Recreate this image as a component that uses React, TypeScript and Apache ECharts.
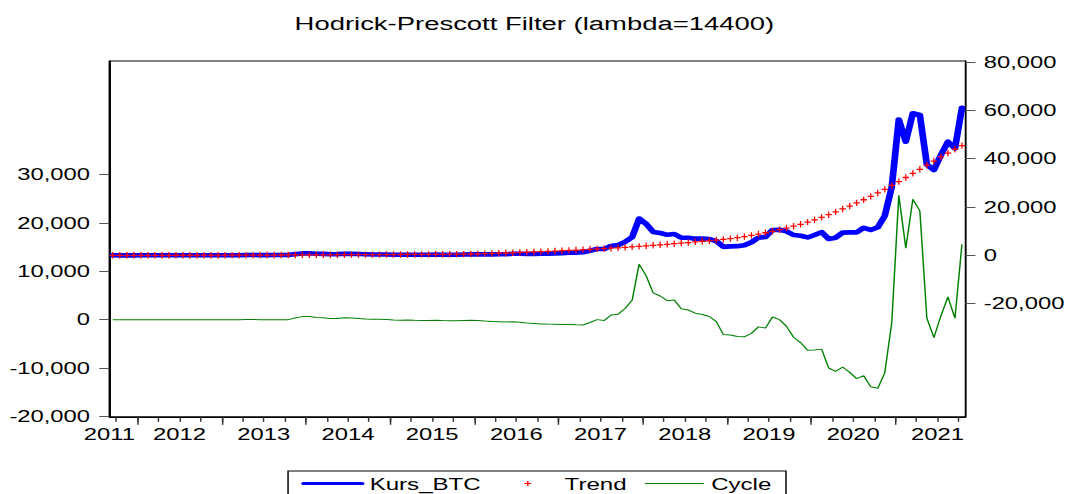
import React, { useEffect, useRef } from "react";
import * as echarts from "echarts";

// Monthly data, 2011M09 .. 2021M10
const START_YEAR = 2011;
const START_MONTH = 9;

const kursBTC: number[] = [
  5, 3, 3, 4,
  6, 5, 5, 5, 5, 6, 8, 11, 11, 12, 11, 13,
  15, 25, 55, 130, 120, 105, 85, 110, 130, 150, 500, 800,
  850, 650, 600, 450, 500, 630, 620, 540, 450, 370, 370, 340,
  250, 235, 270, 235, 235, 235, 280, 250, 235, 265, 350, 420,
  410, 400, 415, 435, 460, 640, 660, 580, 605, 640, 725, 830,
  900, 1050, 1120, 1250, 1900, 2650, 2600, 3900, 4250, 5600, 7500, 15200,
  13000, 9700, 9250, 8500, 8850, 7300, 7300, 6900, 6900, 6700, 5900, 3500,
  3700, 3800, 4200, 5400, 7300, 7600, 10500, 10600, 9900, 8400, 8100, 7400,
  8400, 9600, 6800, 7300, 9400, 9500, 9500, 11400, 10500, 11600, 16300, 28300,
  56200, 47000, 58800, 58100, 37600, 35300, 41500, 47000, 44200, 61000,
];

const trend: number[] = [
  5, 8, 10, 12,
  15, 18, 21, 24, 27, 30, 33, 37, 41, 45, 50, 55,
  60, 70, 80, 90, 100, 110, 120, 130, 140, 150, 162, 175,
  190, 205, 220, 235, 250, 262, 274, 285, 295, 305, 313, 322,
  330, 345, 360, 375, 390, 405, 420, 440, 460, 490, 520, 550,
  610, 690, 780, 870, 970, 1070, 1180, 1290, 1400, 1520, 1640, 1770,
  1900, 2050, 2200, 2350, 2500, 2650, 2800, 2950, 3120, 3300, 3500, 3720,
  3950, 4150, 4360, 4580, 4810, 5050, 5300, 5560, 5830, 6050, 6320, 6600,
  6900, 7300, 7750, 8250, 8800, 9350, 9950, 10600, 11300, 12050, 12850, 13750,
  14700, 15700, 16800, 18000, 19200, 20400, 21700, 23000, 24400, 25800, 27300, 28900,
  30500, 32200, 33900, 35600, 37300, 39000, 40700, 42300, 43900, 45400,
];

const cycle: number[] = [
  0, -5, -7, -8,
  -9, -13, -16, -19, -22, -24, -25, -26, -30, -33, -39, -42,
  -45, -45, -25, 40, 20, -5, -35, -20, -10, 0, 338, 625,
  660, 445, 380, 215, 250, 368, 346, 255, 155, 65, 57, 18,
  -80, -110, -90, -140, -155, -170, -140, -190, -225, -225, -170, -130,
  -200, -290, -365, -435, -510, -430, -520, -710, -795, -880, -915, -940,
  -1000, -1000, -1080, -1100, -600, 0, -200, 950, 1130, 2300, 4000, 11480,
  9050, 5550, 4890, 3920, 4040, 2250, 2000, 1340, 1070, 650, -420, -3100,
  -3200, -3500, -3550, -2850, -1500, -1750, 550, 0, -1400, -3650, -4750, -6350,
  -6300, -6100, -10000, -10700, -9800, -10900, -12200, -11600, -13900, -14200, -11000, -600,
  25700, 14800, 24900, 22500, 300, -3700, 800, 4700, 300, 15600,
];

const yearLabels: string[] = [
  "2011", "2012", "2013", "2014", "2015", "2016",
  "2017", "2018", "2019", "2020", "2021",
];
const leftTicks: number[] = [-20000, -10000, 0, 10000, 20000, 30000];
const rightTicks: number[] = [-20000, 0, 20000, 40000, 60000, 80000];

const months: string[] = kursBTC.map((_, i) => {
  const m = START_MONTH - 1 + i;
  return `${START_YEAR + Math.floor(m / 12)}M${String((m % 12) + 1).padStart(2, "0")}`;
});

// horizontal stretch of the original picture
const S = 1.46;
const W = 1068 / S;
const H = 494;
const FONT = '"Liberation Sans", Arial, Helvetica, sans-serif';

const N = months.length;
const janIndex = (y: number) => (y - START_YEAR) * 12 - (START_MONTH - 1);
const yearTickPos = yearLabels.map((y) => janIndex(Number(y))).filter((v) => v > 0 && v < N);
const quarterTickPos = months
  .map((m, i) => ({ m: Number(m.slice(5)), i }))
  .filter((o) => (o.m - 1) % 3 === 0 && o.i > 0)
  .map((o) => o.i);
const labelPos = yearLabels.map((y) => {
  const j = janIndex(Number(y));
  return j <= 0 ? 0 : j + 6;
});

const fmt = (v: number) => v.toLocaleString("en-US");

export default function App() {
  const ref = useRef<HTMLDivElement>(null);
  useEffect(() => {
    if (!ref.current) return;
    const chart = echarts.init(ref.current, undefined, { renderer: "svg" });
    const plusPath = "path://M4,0 H6 V4 H10 V6 H6 V10 H4 V6 H0 V4 H4 Z";
    const gridLeft = 109.3 / S;
    const gridRight = W - 967.7 / S;
    chart.setOption({
      animation: false,
      backgroundColor: "#ffffff",
      textStyle: { fontFamily: FONT },
      title: {
        text: "Hodrick-Prescott Filter (lambda=14400)",
        left: "center",
        top: 14,
        padding: 0,
        textStyle: { fontFamily: FONT, fontSize: 18.8, fontWeight: "normal", color: "#000" },
      },
      legend: {
        left: 197.3,
        top: 471,
        padding: [4, 10, 30, 9],
        itemGap: 12,
        itemWidth: 40.4,
        itemHeight: 6,
        borderColor: "#000",
        borderWidth: 1,
        borderRadius: 0,
        textStyle: { fontFamily: FONT, fontSize: 16.5, color: "#000" },
        data: [
          { name: "Kurs_BTC", itemStyle: { opacity: 0 }, lineStyle: { width: 3, color: "#0000FF" } },
          { name: "Trend", lineStyle: { opacity: 0, width: 0 } },
          { name: "Cycle", itemStyle: { opacity: 0 }, lineStyle: { width: 1, color: "#008000" } },
        ],
      },
      grid: {
        left: gridLeft,
        right: gridRight,
        top: 61,
        height: 355.8,
        show: true,
        borderColor: "#000",
        borderWidth: 1,
        backgroundColor: "transparent",
      },
      xAxis: [
        {
          type: "value",
          min: 0,
          max: N,
          position: "bottom",
          axisLine: { show: true, onZero: false, lineStyle: { color: "#000", width: 1 } },
          axisTick: {
            show: true,
            customValues: quarterTickPos,
            length: 5,
            lineStyle: { color: "#333" },
          },
          axisLabel: { show: false },
          splitLine: { show: false },
        },
        {
          type: "value",
          min: 0,
          max: N,
          position: "bottom",
          offset: 0,
          axisLine: { show: false, onZero: false },
          axisTick: {
            show: true,
            customValues: yearTickPos,
            length: 8,
            lineStyle: { color: "#333" },
          },
          axisLabel: {
            show: true,
            customValues: labelPos,
            formatter: (v: number) => {
              const k = labelPos.findIndex((p) => Math.abs(p - v) < 0.01);
              return k >= 0 ? yearLabels[k] : "";
            },
            margin: 10,
            fontFamily: FONT,
            fontSize: 16.3,
            color: "#000",
          },
          splitLine: { show: false },
        },
      ],
      yAxis: [
        {
          type: "value",
          position: "left",
          min: -20100,
          max: 53500,
          axisLine: { show: true, onZero: false, lineStyle: { color: "#000" } },
          axisTick: { show: true, customValues: leftTicks, length: 10 / S, lineStyle: { color: "#555" } },
          axisLabel: {
            customValues: leftTicks,
            formatter: (v: number) => fmt(v),
            margin: 13.2,
            fontFamily: FONT,
            fontSize: 16.3,
            color: "#000",
          },
          splitLine: { show: false },
        },
        {
          type: "value",
          position: "right",
          min: -66800,
          max: 80400,
          axisLine: { show: true, onZero: false, lineStyle: { color: "#000" } },
          axisTick: { show: true, customValues: rightTicks, length: 10 / S, lineStyle: { color: "#555" } },
          axisLabel: {
            customValues: rightTicks,
            formatter: (v: number) => fmt(v),
            margin: 12.5,
            fontFamily: FONT,
            fontSize: 16.3,
            color: "#000",
          },
          splitLine: { show: false },
        },
      ],
      series: [
        {
          name: "Kurs_BTC",
          type: "line",
          xAxisIndex: 0,
          yAxisIndex: 1,
          data: kursBTC.map((v, i) => [i + 0.5, v]),
          symbol: "none",
          itemStyle: { color: "#0000FF" },
          lineStyle: { color: "#0000FF", width: 4.6, cap: "round", join: "round" },
          z: 2,
        },
        {
          name: "Trend",
          type: "line",
          xAxisIndex: 0,
          yAxisIndex: 1,
          data: trend.map((v, i) => [i + 0.5, v]),
          symbol: plusPath,
          symbolSize: [4.4, 6.4],
          showSymbol: true,
          itemStyle: { color: "#FF0000" },
          lineStyle: { opacity: 0, width: 0 },
          z: 3,
        },
        {
          name: "Cycle",
          type: "line",
          xAxisIndex: 0,
          yAxisIndex: 0,
          data: cycle.map((v, i) => [i + 0.5, v]),
          symbol: "none",
          itemStyle: { color: "#008000" },
          lineStyle: { color: "#008000", width: 1 },
          z: 2,
        },
      ],
    });
    return () => chart.dispose();
  }, []);

  return (
    <div style={{ position: "fixed", left: 0, top: 0, width: 1068, height: H, overflow: "hidden", background: "#fff" }}>
      <div
        ref={ref}
        style={{ width: W, height: H, transform: `scaleX(${S})`, transformOrigin: "0 0" }}
      />
    </div>
  );
}
